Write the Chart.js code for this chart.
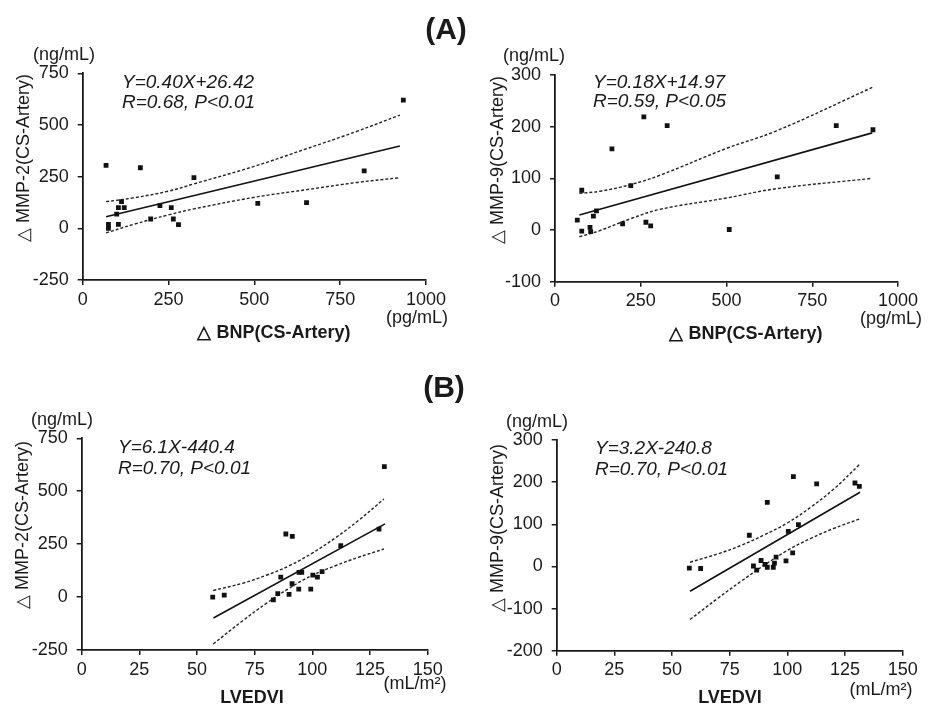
<!DOCTYPE html>
<html>
<head>
    <title>MMP vs BNP / LVEDVI</title>
    <script src="https://cdn.jsdelivr.net/npm/chart.js"></script>
    <style>
        body { margin: 0; background: #fff; }
        #page { position: relative; width: 928px; height: 708px; overflow: hidden;
                font-family: "Liberation Sans", Arial, sans-serif; color: #1a1a1a; }
        #page canvas { position: absolute; left: 0; top: 0; }
        .lbl { position: absolute; white-space: nowrap; line-height: 1; }
    </style>
</head>
<body>
<div id="page">
    <canvas id="cA2" width="928" height="708"></canvas>
    <canvas id="cA9" width="928" height="708"></canvas>
    <canvas id="cB2" width="928" height="708"></canvas>
    <canvas id="cB9" width="928" height="708"></canvas>
</div>

<script>
    // (A) 左: ΔBNP vs ΔMMP-2
    const bnpA2 = [68, 168, 324, 113, 104, 121, 99, 75, 75, 104, 198, 225, 258, 264, 279, 510, 652, 820, 934];
    const mmp2A = [305, 293, 245, 129, 100, 100, 69, 19, 0, 19, 45, 110, 100, 45, 18, 121, 124, 278, 620];
    const fitA2x = [68, 924];
    const fitA2y = [56, 398];
    const bandA2x = [68, 150, 250, 324, 500, 652, 800, 924];
    const upA2 = [129, 148, 180, 215, 300, 385, 470, 548];
    const loA2 = [-22, 20, 65, 94, 150, 187, 222, 245];

    // (A) 右: ΔBNP vs ΔMMP-9
    const bnpA9 = [65, 78, 78, 102, 104, 112, 121, 166, 197, 221, 259, 265, 279, 327, 508, 648, 820, 927];
    const mmp9A = [19, 77, -2, 5, -3, 27, 37, 157, 12, 86, 219, 15, 8, 202, 1, 103, 202, 194];
    const fitA9x = [71, 925];
    const fitA9y = [29, 188];
    const bandA9x = [71, 131, 221, 306, 500, 646, 925];
    const upA9 = [71, 75, 88, 106, 158, 192, 276];
    const loA9 = [-13, -1, 22, 40, 62, 80, 100];

    // (B) 左: LVEDVI vs ΔMMP-2
    const lvB2 = [56.8, 61.8, 86.3, 88.5, 91.3, 83.1, 85, 89.9, 91.2, 94.1, 94.2, 95.4, 99.3, 100.2, 102.2, 104.2, 112.3, 128.9, 131.2];
    const mmp2B = [0, 9, 94, 298, 287, -13, 16, 13, 63, 38, 117, 117, 38, 104, 94, 120, 243, 321, 616];
    const fitB2x = [57.1, 131.5];
    const fitB2y = [-99, 346];
    const bandB2x = [57, 70, 80, 90, 100, 110, 120, 131];
    const upB2 = [31, 66, 103, 148, 208, 280, 362, 463];
    const loB2 = [-222, -110, -30, 42, 103, 148, 188, 227];

    // (B) 右: LVEDVI vs ΔMMP-9
    const lvB9 = [57.5, 62.4, 83.5, 85.3, 86.7, 88.6, 90.3, 91.3, 91.3, 93.9, 94.4, 95.1, 99.4, 100.4, 102.3, 102.6, 104.8, 112.7, 129.3, 131.2];
    const mmp9B = [-4, -5, 74, 1, -9, 14, 5, 152, -2, -2, 8, 22, 13, 83, 32, 213, 99, 196, 198, 190];
    const fitB9x = [57.8, 131.5];
    const fitB9y = [-59, 176];
    const bandB9x = [57.8, 70, 80, 90, 100, 110, 120, 131.5];
    const upB9 = [10, 30, 50, 75, 103, 140, 183, 243];
    const loB9 = [-126, -75, -35, 3, 38, 66, 90, 113];

    const FONT = '"Liberation Sans", Arial, sans-serif';
    const INK = '#1a1a1a';
    const Y_W = 50;
    const X_H = 30;

    function pairs(xs, ys) {
        return xs.map((x, i) => ({ x: x, y: ys[i] }));
    }

    // パネルを1つ描く (area はページ上のプロット領域)
    function makePanel(id, area, xr, yr, d) {
        const axis = (r) => ({
            type: 'linear', min: r[0], max: r[1],
            ticks: { stepSize: r[2], autoSkip: false, maxRotation: 0, color: INK,
                     font: { family: FONT, size: 18 }, padding: 9,
                     callback: (v) => String(v) },
            grid: { drawOnChartArea: false, drawTicks: true, tickLength: 5, color: INK, lineWidth: 1.5 },
            border: { display: true, color: INK, width: 1.8 }
        });
        const xs = axis(xr);
        xs.afterFit = (s) => { s.height = X_H; };
        xs.ticks.padding = 4;
        const ys = axis(yr);
        ys.afterFit = (s) => { s.width = Y_W; };

        return new Chart(document.getElementById(id), {
            type: 'scatter',
            data: {
                datasets: [
                    { data: pairs(d.px, d.py), pointStyle: 'rect', pointRadius: 3.4,
                      backgroundColor: '#111', borderWidth: 0 },
                    { data: pairs(d.fx, d.fy), showLine: true, borderColor: '#111',
                      borderWidth: 1.6, pointRadius: 0 },
                    { data: pairs(d.bx, d.up), showLine: true, borderColor: '#222',
                      borderWidth: 1.4, borderDash: [3, 2], pointRadius: 0, tension: 0.4 },
                    { data: pairs(d.bx, d.lo), showLine: true, borderColor: '#222',
                      borderWidth: 1.4, borderDash: [3, 2], pointRadius: 0, tension: 0.4 }
                ]
            },
            options: {
                responsive: false,
                animation: false,
                events: [],
                layout: { padding: { left: area[0] - Y_W, top: area[2],
                                     right: 928 - area[1], bottom: 708 - area[3] - X_H } },
                plugins: { legend: { display: false }, tooltip: { enabled: false } },
                scales: { x: xs, y: ys }
            }
        });
    }

    // テキストを置く
    function label(text, x, y, opts) {
        opts = opts || {};
        const el = document.createElement('div');
        el.className = 'lbl';
        el.textContent = text;
        el.style.left = x + 'px';
        el.style.top = y + 'px';
        el.style.fontSize = (opts.size || 18) + 'px';
        if (opts.bold) el.style.fontWeight = 'bold';
        if (opts.italic) el.style.fontStyle = 'italic';
        let tf = opts.left ? 'translate(0,-50%)' : 'translate(-50%,-50%)';
        if (opts.rot) tf += ' rotate(-90deg)';
        el.style.transform = tf;
        document.getElementById('page').appendChild(el);
    }

    window.onload = () => {
        makePanel('cA2', [82.7, 426, 73.3, 280], [0, 1000, 250], [-250, 750, 250],
            { px: bnpA2, py: mmp2A, fx: fitA2x, fy: fitA2y, bx: bandA2x, up: upA2, lo: loA2 });
        makePanel('cA9', [555, 898, 75, 281.7], [0, 1000, 250], [-100, 300, 100],
            { px: bnpA9, py: mmp9A, fx: fitA9x, fy: fitA9y, bx: bandA9x, up: upA9, lo: loA9 });
        makePanel('cB2', [81.7, 427.7, 438.3, 650], [0, 150, 25], [-250, 750, 250],
            { px: lvB2, py: mmp2B, fx: fitB2x, fy: fitB2y, bx: bandB2x, up: upB2, lo: loB2 });
        makePanel('cB9', [556.7, 902.7, 440, 650.7], [0, 150, 25], [-200, 300, 100],
            { px: lvB9, py: mmp9B, fx: fitB9x, fy: fitB9y, bx: bandB9x, up: upB9, lo: loB9 });

        label('(A)', 446, 29, { size: 30, bold: true });
        label('(B)', 444, 387, { size: 30, bold: true });

        // (A) 左
        label('(ng/mL)', 64, 54, { size: 18 });
        label('\u25B3 MMP-2(CS-Artery)', 23, 158, { size: 18, rot: true });
        label('Y=0.40X+26.42', 122, 81, { size: 19, italic: true, left: true });
        label('R=0.68, P<0.01', 122, 101, { size: 19, italic: true, left: true });
        label('\u25B3 BNP(CS-Artery)', 274, 332, { size: 18, bold: true });
        label('(pg/mL)', 417, 317, { size: 18 });

        // (A) 右
        label('(ng/mL)', 534, 55, { size: 18 });
        label('\u25B3 MMP-9(CS-Artery)', 497, 160, { size: 18, rot: true });
        label('Y=0.18X+14.97', 593, 81, { size: 19, italic: true, left: true });
        label('R=0.59, P<0.05', 593, 100, { size: 19, italic: true, left: true });
        label('\u25B3 BNP(CS-Artery)', 746, 333, { size: 18, bold: true });
        label('(pg/mL)', 891, 318, { size: 18 });

        // (B) 左
        label('(ng/mL)', 62, 419, { size: 18 });
        label('\u25B3 MMP-2(CS-Artery)', 22, 525, { size: 18, rot: true });
        label('Y=6.1X-440.4', 118, 446, { size: 19, italic: true, left: true });
        label('R=0.70, P<0.01', 118, 467, { size: 19, italic: true, left: true });
        label('LVEDVI', 252, 697, { size: 18, bold: true });
        label('(mL/m\u00B2)', 415, 683, { size: 18 });

        // (B) 右
        label('(ng/mL)', 537, 421, { size: 18 });
        label('\u25B3 MMP-9(CS-Artery)', 497, 528, { size: 18, rot: true });
        label('Y=3.2X-240.8', 595, 447, { size: 19, italic: true, left: true });
        label('R=0.70, P<0.01', 595, 468, { size: 19, italic: true, left: true });
        label('LVEDVI', 730, 697, { size: 18, bold: true });
        label('(mL/m\u00B2)', 881, 689, { size: 18 });
    };
</script>
</body>
</html>
